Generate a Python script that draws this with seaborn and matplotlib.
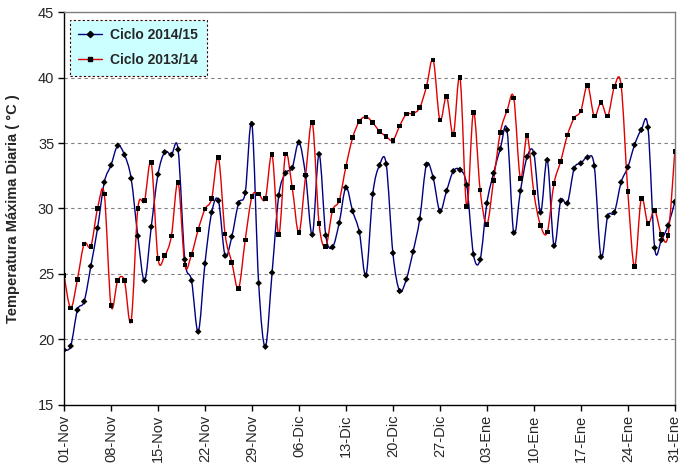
import numpy as np
import pandas as pd
import matplotlib
matplotlib.use('Agg')
import matplotlib.pyplot as plt
from matplotlib.path import Path
from matplotlib.patches import PathPatch
from matplotlib.lines import Line2D
import seaborn as sns

# daily max temperature, 01-Nov .. 31-Ene (92 days)
ciclo_2014_15 = [19.2, 19.5, 22.25, 22.9, 25.6, 28.5, 32.0, 33.3, 34.8, 34.1,
                 32.3, 27.9, 24.5, 28.6, 32.6, 34.3, 34.1, 34.5, 26.1, 24.5,
                 20.6, 25.8, 29.7, 30.6, 26.4, 27.85, 30.4, 31.2, 36.45, 24.3,
                 19.45, 25.1, 31.0, 32.7, 33.1, 35.05, 32.5, 28.0, 34.15, 27.95,
                 27.05, 28.9, 31.6, 29.8, 28.2, 24.9, 31.1, 33.3, 33.4, 26.6,
                 23.7, 24.6, 26.7, 29.2, 33.35, 32.35, 29.8, 31.35, 32.85, 32.95,
                 31.8, 26.5, 26.1, 30.4, 32.7, 34.55, 36.0, 28.15, 31.35, 33.95,
                 34.2, 29.7, 33.7, 27.15, 30.6, 30.4, 33.05, 33.45, 33.9, 33.25,
                 26.3, 29.4, 29.7, 32.0, 33.15, 34.85, 36.0, 36.2, 27.0, 27.6,
                 28.7, 30.5]
ciclo_2013_14 = [24.9, 22.4, 24.6, 27.3, 27.1, 30.0, 31.1, 22.6, 24.5, 24.5,
                 21.4, 30.0, 30.6, 33.5, 26.2, 26.4, 27.9, 32.0, 25.7, 26.5,
                 28.4, 29.95, 30.75, 33.9, 28.05, 25.9, 23.9, 27.6, 30.9, 31.1,
                 30.75, 34.1, 28.0, 34.15, 31.6, 28.15, 32.55, 36.55, 28.85, 27.1,
                 29.85, 30.6, 33.2, 35.4, 36.65, 37.0, 36.55, 35.9, 35.5, 35.2,
                 36.3, 37.2, 37.25, 37.7, 39.3, 41.35, 36.75, 38.55, 35.65, 40.0,
                 30.15, 37.35, 31.4, 28.8, 32.15, 35.8, 37.45, 38.45, 32.3, 35.55,
                 31.2, 28.7, 28.2, 31.9, 33.6, 35.6, 36.9, 37.45, 39.4, 37.05,
                 38.1, 37.05, 39.3, 39.4, 31.3, 25.55, 30.75, 28.85, 29.85, 28.0,
                 27.95, 34.35]
tick_labels = ['01-Nov', '08-Nov', '15-Nov', '22-Nov', '29-Nov', '06-Dic', '13-Dic',
               '20-Dic', '27-Dic', '03-Ene', '10-Ene', '17-Ene', '24-Ene', '31-Ene']

dia = np.arange(len(ciclo_2014_15))
df = pd.DataFrame({'dia': dia, '2014/15': ciclo_2014_15, '2013/14': ciclo_2013_14})

sns.set_style('white')
plt.rcParams['font.family'] = ['Liberation Sans', 'DejaVu Sans']


def smooth_line(ax, x, y, color):
    # Excel-style smoothed line: Catmull-Rom segments as cubic Bezier curves
    n = len(x)
    verts = [(x[0], y[0])]
    codes = [Path.MOVETO]
    for i in range(n - 1):
        a = max(i - 1, 0)
        b = min(i + 2, n - 1)
        c1 = (x[i] + (x[i + 1] - x[a]) / 6, y[i] + (y[i + 1] - y[a]) / 6)
        c2 = (x[i + 1] - (x[b] - x[i]) / 6, y[i + 1] - (y[b] - y[i]) / 6)
        verts += [c1, c2, (x[i + 1], y[i + 1])]
        codes += [Path.CURVE4] * 3
    ax.add_patch(PathPatch(Path(verts, codes), fill=False, edgecolor=color,
                           lw=1.0, zorder=2))


fig, ax = plt.subplots(figsize=(6.83, 4.73), dpi=100)
fig.subplots_adjust(left=0.0937, right=0.988, top=0.9746, bottom=0.1438)

smooth_line(ax, df['dia'].values, df['2014/15'].values, '#000080')
smooth_line(ax, df['dia'].values, df['2013/14'].values, '#e00000')
sns.scatterplot(data=df, x='dia', y='2014/15', marker='D', color='black', s=11,
                edgecolor='none', ax=ax, zorder=3)
sns.scatterplot(data=df, x='dia', y='2013/14', marker='s', color='black', s=11,
                edgecolor='none', ax=ax, zorder=3)

ax.set_xlim(0, len(dia) - 1)
ax.set_ylim(15, 45)
ax.set_xticks(dia[::7])
ax.set_xticklabels(tick_labels, rotation=90, fontsize=10.5)
ax.set_yticks(range(15, 46, 5))
ax.tick_params(axis='y', labelsize=10.5)
ax.tick_params(axis='both', direction='out', length=4, width=1, color='black',
               bottom=True, left=True, pad=3)
ax.set_xlabel('')
ax.set_ylabel('Temperatura Máxima Diaria ( °C )', fontsize=10.5, fontweight='bold')
ax.yaxis.set_label_coords(-0.072, 0.5)

ax.grid(axis='y', linestyle=(0, (3, 3)), color='#808080', lw=0.8)
ax.set_axisbelow(True)
for s in ['left', 'bottom']:
    ax.spines[s].set_color('black')
    ax.spines[s].set_linewidth(1.0)
for s in ['top', 'right']:
    ax.spines[s].set_color('#808080')
    ax.spines[s].set_linewidth(1.0)

handles = [Line2D([], [], color='#000080', lw=1, marker='D', ms=3.2,
                  mfc='black', mec='black'),
           Line2D([], [], color='#e00000', lw=1, marker='s', ms=3.2,
                  mfc='black', mec='black')]
leg = ax.legend(handles, ['Ciclo 2014/15', 'Ciclo 2013/14'], loc='upper left',
                bbox_to_anchor=(0.01, 0.98), borderaxespad=0, fancybox=False,
                framealpha=1, facecolor='#ccffff', edgecolor='#400000',
                prop={'weight': 'bold', 'size': 10}, handlelength=1.7,
                handletextpad=0.6, labelspacing=0.8, borderpad=0.6)
leg.get_frame().set_linestyle((0, (2, 2)))
leg.get_frame().set_linewidth(0.8)

fig.savefig('out.png', dpi=100)
